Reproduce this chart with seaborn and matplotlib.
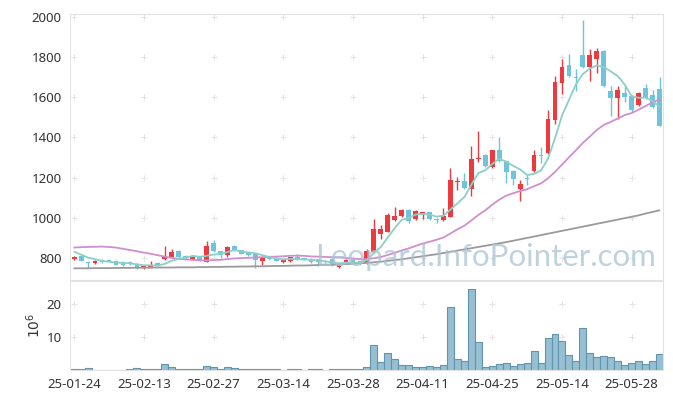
import numpy as np
import pandas as pd
import matplotlib
matplotlib.use("Agg")
import matplotlib.pyplot as plt
import seaborn as sns

# trading days (yy-mm-dd)
dates = ["25-01-24", "25-01-31", "25-02-03", "25-02-04", "25-02-05", "25-02-06", "25-02-07", "25-02-10", "25-02-11", "25-02-12",
         "25-02-13", "25-02-14", "25-02-17", "25-02-18", "25-02-19", "25-02-20", "25-02-21", "25-02-24", "25-02-25", "25-02-26",
         "25-02-27", "25-02-28", "25-03-04", "25-03-05", "25-03-06", "25-03-07", "25-03-10", "25-03-11", "25-03-12", "25-03-13",
         "25-03-14", "25-03-17", "25-03-18", "25-03-19", "25-03-20", "25-03-21", "25-03-24", "25-03-25", "25-03-26", "25-03-27",
         "25-03-28", "25-03-31", "25-04-01", "25-04-02", "25-04-03", "25-04-04", "25-04-07", "25-04-08", "25-04-09", "25-04-10",
         "25-04-11", "25-04-14", "25-04-15", "25-04-16", "25-04-17", "25-04-18", "25-04-21", "25-04-22", "25-04-23", "25-04-24",
         "25-04-25", "25-04-28", "25-04-29", "25-04-30", "25-05-02", "25-05-07", "25-05-08", "25-05-09", "25-05-12", "25-05-13",
         "25-05-14", "25-05-15", "25-05-16", "25-05-19", "25-05-20", "25-05-21", "25-05-22", "25-05-23", "25-05-26", "25-05-27",
         "25-05-28", "25-05-29", "25-05-30", "25-06-02", "25-06-04"]

opens = [795, 812, 781, 775, 791, 789, 788, 783, 779, 771,
         750, 759, 778, 796, 805, 836, 811, 793, 808, 783,
         877, 834, 816, 859, 840, 830, 820, 784, 799, 803,
         780, 784, 806, 799, 797, 795, 788, 796, 758, 778,
         792, 785, 775, 831, 918, 932, 988, 1011, 1040, 995,
         1016, 1028, 996, 988, 1006, 1177, 1183, 1142, 1293, 1312,
         1255, 1337, 1281, 1234, 1146, 1198, 1234, 1314, 1325, 1488,
         1671, 1759, 1700, 1808, 1752, 1789, 1830, 1631, 1598, 1623,
         1606, 1562, 1645, 1610, 1640]
highs = [812, 815, 784, 789, 794, 793, 791, 786, 785, 774,
         766, 784, 781, 861, 845, 840, 814, 811, 812, 884,
         892, 838, 860, 864, 843, 833, 822, 809, 803, 806,
         792, 808, 821, 803, 800, 798, 792, 800, 776, 797,
         796, 788, 845, 996, 966, 1024, 1053, 1046, 1044, 1038,
         1032, 1031, 999, 1048, 1246, 1205, 1225, 1357, 1433, 1316,
         1340, 1403, 1284, 1237, 1188, 1213, 1337, 1354, 1536, 1706,
         1789, 1813, 1739, 1985, 1838, 1846, 1835, 1656, 1656, 1656,
         1610, 1625, 1665, 1635, 1701]
lows = [790, 784, 752, 771, 776, 782, 765, 762, 768, 748,
        745, 755, 764, 792, 802, 803, 796, 789, 784, 780,
        830, 803, 806, 835, 820, 812, 752, 767, 790, 785,
        777, 782, 793, 789, 778, 762, 774, 762, 753, 775,
        776, 768, 772, 828, 897, 929, 984, 1007, 977, 991,
        994, 990, 977, 984, 1003, 1139, 1146, 1108, 1277, 1254,
        1250, 1278, 1172, 1164, 1083, 1164, 1230, 1271, 1318, 1466,
        1615, 1698, 1631, 1745, 1681, 1718, 1650, 1507, 1491, 1574,
        1524, 1558, 1590, 1548, 1455]
closes = [808, 788, 775, 785, 779, 786, 768, 768, 775, 751,
          762, 767, 767, 812, 833, 806, 799, 808, 788, 861,
          834, 814, 856, 839, 823, 815, 792, 806, 796, 788,
          789, 805, 796, 791, 781, 779, 779, 765, 773, 793,
          779, 774, 837, 945, 945, 1015, 1010, 1040, 986, 1035,
          1028, 996, 988, 1010, 1188, 1183, 1150, 1293, 1300, 1258,
          1337, 1281, 1226, 1195, 1168, 1193, 1312, 1310, 1491, 1673,
          1752, 1703, 1697, 1752, 1808, 1830, 1656, 1594, 1635, 1602,
          1536, 1620, 1595, 1553, 1458]

# volume in millions of shares
volume = [0.2, 0.2, 0.6, 0.05, 0.15, 0.15, 0.15, 0.15, 0.2, 0.6,
          0.2, 0.2, 0.2, 1.9, 0.9, 0.2, 0.2, 0.2, 0.2, 1.3,
          0.9, 0.2, 0.9, 0.5, 0.2, 0.2, 0.2, 0.2, 0.2, 0.2,
          0.02, 0.2, 0.2, 0.02, 0.2, 0.2, 0.02, 0.2, 0.2, 0.2,
          0.2, 0.2, 0.8, 7.6, 2.5, 5.1, 3.3, 1.5, 1.5, 0.9,
          0.9, 1.2, 0.9, 1.5, 19.1, 3.3, 2.8, 24.5, 8.5, 0.9,
          1.2, 1.8, 2.1, 1.2, 1.8, 2.1, 5.7, 2.1, 9.7, 10.9,
          8.8, 4.5, 2.7, 12.7, 5.1, 3.9, 4.2, 3.9, 2.7, 1.5,
          2.1, 2.7, 1.8, 2.7, 4.8]

ma5 = [833, 818, 803, 795, 787, 783, 779, 777, 775, 770,
       765, 765, 764, 772, 788, 797, 803, 812, 807, 812,
       818, 821, 831, 841, 833, 829, 825, 815, 806, 799,
       794, 797, 795, 794, 792, 790, 785, 779, 775, 778,
       778, 777, 791, 826, 856, 903, 950, 991, 999, 1017,
       1020, 1017, 1007, 1011, 1042, 1073, 1104, 1165, 1223, 1237,
       1268, 1294, 1280, 1259, 1241, 1213, 1219, 1236, 1295, 1396,
       1508, 1586, 1663, 1715, 1742, 1758, 1749, 1728, 1705, 1663,
       1605, 1597, 1598, 1581, 1552]
ma20 = [853, 855, 856, 857, 858, 856, 853, 847, 841, 835,
        828, 822, 815, 808, 802, 797, 794, 792, 790, 789,
        791, 792, 796, 799, 801, 802, 804, 805, 807, 808,
        810, 812, 813, 812, 809, 808, 807, 805, 804, 801,
        798, 796, 795, 800, 806, 816, 827, 839, 849, 861,
        873, 882, 892, 903, 923, 944, 962, 988, 1015, 1038,
        1066, 1091, 1111, 1123, 1134, 1143, 1158, 1172, 1197, 1229,
        1265, 1301, 1336, 1373, 1404, 1437, 1462, 1477, 1494, 1511,
        1521, 1538, 1556, 1574, 1589]
ma_long = [750, 750, 750, 751, 751, 751, 752, 752, 752, 753,
           753, 753, 754, 754, 754, 755, 755, 755, 756, 756,
           757, 757, 758, 758, 759, 759, 760, 760, 761, 762,
           762, 763, 764, 764, 765, 766, 767, 768, 769, 771,
           773, 775, 777, 780, 783, 787, 791, 795, 800, 805,
           810, 815, 820, 826, 832, 838, 844, 850, 856, 862,
           868, 874, 880, 887, 894, 901, 908, 915, 922, 929,
           936, 943, 950, 957, 964, 971, 978, 985, 992, 999,
           1006, 1013, 1022, 1030, 1038]

price_ticks = [800, 1000, 1200, 1400, 1600, 1800, 2000]
vol_ticks = [10, 20]

UP = "#ec3a3f"
DOWN = "#6fc3da"
GRID = "#e4e4e4"

sns.set_theme(style="white")
plt.rcParams["font.family"] = ["Noto Sans", "DejaVu Sans"]

df = pd.DataFrame({"idx": np.arange(len(dates)), "open": opens, "high": highs,
                   "low": lows, "close": closes, "vol": volume,
                   "ma5": ma5, "ma20": ma20, "ma_long": ma_long})

fig = plt.figure(figsize=(6.73, 3.99), dpi=100)
ax = fig.add_axes([70 / 673, 119 / 399, 593 / 673, 266 / 399])
axv = fig.add_axes([70 / 673, 29 / 399, 593 / 673, 89 / 399])

tick_pos = df["idx"].values[::10]

# faint grid crosses at tick intersections
for a, ys in ((ax, price_ticks), (axv, vol_ticks)):
    gx, gy = np.meshgrid(tick_pos, ys)
    a.scatter(gx.ravel(), gy.ravel(), marker="+", s=14, color=GRID, linewidths=0.8,
              zorder=1, clip_on=False)

# candles
up = df["close"] >= df["open"]
cols = np.where(up, UP, DOWN)
ax.vlines(df["idx"], df["low"], df["high"], colors=cols, lw=1.0, zorder=2)
body_lo = np.minimum(df["open"], df["close"])
body_h = np.maximum((df["close"] - df["open"]).abs(), 4)
ax.bar(df["idx"], body_h, bottom=body_lo, width=0.68, color=cols, linewidth=0, zorder=3)

# moving averages
sns.lineplot(data=df, x="idx", y="ma_long", color="#9a9a9a", lw=1.3, ax=ax, zorder=4)
sns.lineplot(data=df, x="idx", y="ma20", color="#cf8fcf", lw=1.3, ax=ax, zorder=4)
sns.lineplot(data=df, x="idx", y="ma5", color="#8dcfc5", lw=1.3, ax=ax, zorder=4)

ax.text(0.70, 0.085, "Leopard.InfoPointer.com", transform=ax.transAxes,
        ha="center", va="center", fontsize=22.5, color="#a9c3d3", alpha=0.75, zorder=6,
        family=["Lato", "DejaVu Sans"])

ax.set_xlim(-0.6, 84.5)
ax.set_ylim(692, 2013)
ax.set_yticks(price_ticks)
ax.set_xticks(tick_pos)
ax.set_xticklabels([])
ax.set_xlabel("")
ax.set_ylabel("")

# volume
sns.barplot(data=df, x="idx", y="vol", native_scale=True, width=1.0, color="#98bfd1",
            saturation=1, edgecolor="#5f95b0", linewidth=0.8, errorbar=None, ax=axv, zorder=2)
axv.set_xlim(-0.6, 84.5)
axv.set_ylim(0, 27)
axv.set_yticks(vol_ticks)
axv.set_xticks(tick_pos)
axv.set_xticklabels([dates[i] for i in tick_pos])
axv.set_xlabel("")
axv.set_ylabel(r"$10^6$", fontsize=10, color="#333333", labelpad=2)

for a in (ax, axv):
    a.tick_params(length=0, labelsize=9.5, labelcolor="#333333", pad=6)
    for s in a.spines.values():
        s.set_color("#e2e2e2")
        s.set_linewidth(0.8)
    a.grid(False)

fig.savefig("out.png", dpi=100, facecolor="white")
